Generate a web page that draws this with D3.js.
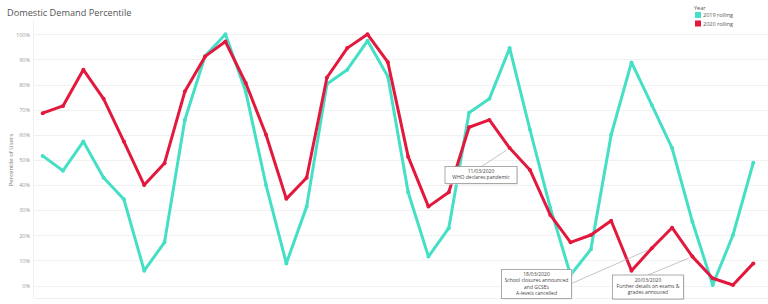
<!DOCTYPE html>
<html>
<head>
<meta charset="utf-8">
<script src="https://cdn.jsdelivr.net/npm/d3@7"></script>
<style>
  body { margin: 0; background: #fff; }
  svg { font-family: "Open Sans", "DejaVu Sans", sans-serif; }
</style>
</head>
<body>
<div id="chart"></div>
<script>
var width = 768;
var height = 304;

// weekly rolling percentile values
var rolling2019 = [51.6, 45.7, 57.3, 42.9, 34.3, 5.9, 17.2, 65.9, 91.4, 100, 77.2, 40.0,
  8.8, 31.4, 80.2, 85.9, 97.4, 83.2, 37.1, 11.5, 22.8, 68.8, 74.3, 94.5,
  62.0, 31.0, 4.2, 14.4, 60.0, 88.8, 71.9, 54.7, 25.4, 0.2, 20.1, 48.9];
var rolling2020 = [68.6, 71.5, 85.9, 74.3, 57.3, 40.0, 48.7, 77.2, 91.2, 97.1, 80.6, 60.0,
  34.5, 42.9, 82.8, 94.5, 100, 88.9, 51.3, 31.4, 37.1, 63.0, 65.9, 54.7,
  46.0, 28.1, 17.2, 20.1, 25.8, 5.9, 14.8, 23.0, 11.5, 2.9, 0.2, 8.8];
var yTicks = [0, 10, 20, 30, 40, 50, 60, 70, 80, 90, 100];
var seriesNames = ["2019 rolling", "2020 rolling"];
var colors = ["#45dfc6", "#e3183d"];

// annotations point at a week of the 2020 series
var notes = [
  { week: 23, lines: ["11/03/2020", "WHO declares pandemic"] },
  { week: 30, lines: ["18/03/2020", "School closures announced", "and GCSEs", "A-levels cancelled"] },
  { week: 32, lines: ["20/03/2020", "Further details on exams &", "grades annouced"] }
];

var svg = d3.select("#chart")
  .append("svg")
  .attr("width", width)
  .attr("height", height);

var x = d3.scaleLinear()
  .domain([0, rolling2019.length - 1])
  .range([42.7, 753.3]);

var y = d3.scaleLinear()
  .domain([0, 100])
  .range([285.5, 34.3]);

// title
svg.append("text")
  .attr("x", 7)
  .attr("y", 16)
  .attr("font-size", 9.2)
  .attr("fill", "#555")
  .text("Domestic Demand Percentile");

// grid
svg.append("g")
  .selectAll("line")
  .data(yTicks)
  .enter()
  .append("line")
  .attr("x1", 33)
  .attr("x2", width)
  .attr("y1", function(d) { return Math.round(y(d)) + 0.5; })
  .attr("y2", function(d) { return Math.round(y(d)) + 0.5; })
  .attr("stroke", "#f1f1f1");

svg.append("path")
  .attr("d", "M33.5,20V298.5H" + width)
  .attr("fill", "none")
  .attr("stroke", "#f0f0f0");

var yAxis = d3.axisLeft(y)
  .tickValues(yTicks)
  .tickSize(0)
  .tickPadding(0)
  .tickFormat(function(d) { return d + "%"; });

svg.append("g")
  .attr("transform", "translate(30,0)")
  .call(yAxis)
  .call(function(g) { g.select(".domain").remove(); })
  .selectAll("text")
  .attr("font-family", "Open Sans, sans-serif")
  .attr("font-size", 5.5)
  .attr("fill", "#999");

svg.append("text")
  .attr("transform", "translate(13,160) rotate(-90)")
  .attr("text-anchor", "middle")
  .attr("font-size", 6)
  .attr("fill", "#777")
  .text("Percentile of Users");

// lines
var line = d3.line()
  .x(function(d, i) { return x(i); })
  .y(function(d) { return y(d); });

[rolling2019, rolling2020].forEach(function(series, s) {
  svg.append("path")
    .datum(series)
    .attr("d", line)
    .attr("fill", "none")
    .attr("stroke", colors[s])
    .attr("stroke-width", 3)
    .attr("stroke-linejoin", "round");

  svg.append("g")
    .selectAll("circle")
    .data(series)
    .enter()
    .append("circle")
    .attr("cx", function(d, i) { return x(i); })
    .attr("cy", function(d) { return y(d); })
    .attr("r", 2)
    .attr("fill", colors[s]);
});

// annotations
var boxes = [
  { bx: 445, by: 166.5, bw: 72, bh: 17, lx: 481.5, ly: 166.5 },
  { bx: 501.5, by: 269.5, bw: 70, bh: 29, lx: 571.5, ly: 283.5 },
  { bx: 612.5, by: 275, bw: 71, bh: 24, lx: 648, ly: 275 }
];

notes.forEach(function(n, i) {
  var b = boxes[i];
  var tx = x(n.week), ty = y(rolling2020[n.week]);
  var ang = Math.atan2(ty - b.ly, tx - b.lx);
  svg.append("line")
    .attr("x1", b.lx)
    .attr("y1", b.ly)
    .attr("x2", tx - Math.cos(ang) * 4)
    .attr("y2", ty - Math.sin(ang) * 4)
    .attr("stroke", "#aaa")
    .attr("stroke-width", 0.7);

  svg.append("rect")
    .attr("x", b.bx + 1)
    .attr("y", b.by + 1)
    .attr("width", b.bw)
    .attr("height", b.bh)
    .attr("fill", "#e6e6e6");

  svg.append("rect")
    .attr("x", b.bx)
    .attr("y", b.by)
    .attr("width", b.bw)
    .attr("height", b.bh)
    .attr("fill", "#fff")
    .attr("stroke", "#888")
    .attr("stroke-width", 0.7);

  svg.append("text")
    .attr("text-anchor", "middle")
    .attr("font-size", 5)
    .attr("fill", "#444")
    .selectAll("tspan")
    .data(n.lines)
    .enter()
    .append("tspan")
    .attr("x", b.bx + b.bw / 2)
    .attr("y", function(d, j) { return b.by + 6.5 + j * 6.3; })
    .text(function(d) { return d; });
});

// legend
svg.append("text")
  .attr("x", 694)
  .attr("y", 10)
  .attr("font-size", 5.5)
  .attr("fill", "#555")
  .text("Year");

var legend = svg.append("g")
  .selectAll("g")
  .data(seriesNames)
  .enter()
  .append("g")
  .attr("transform", function(d, i) { return "translate(695," + (12 + i * 8.5) + ")"; });

legend.append("rect")
  .attr("width", 6)
  .attr("height", 6)
  .attr("fill", function(d, i) { return colors[i]; });

legend.append("text")
  .attr("x", 8)
  .attr("y", 5)
  .attr("font-size", 5.5)
  .attr("fill", "#555")
  .text(function(d) { return d; });
</script>
</body>
</html>
